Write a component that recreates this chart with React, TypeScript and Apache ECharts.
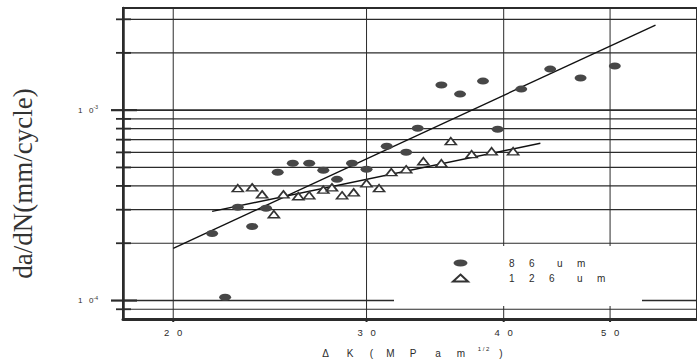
import React, { useEffect, useRef } from "react";
import * as echarts from "echarts";

const X_MIN = 18;
const X_MAX = 60;
const Y_MIN = 8e-5;
const Y_MAX = 3.44e-3;

const xTicks = [20, 30, 40, 50];
const xTickLabels = ["20", "30", "40", "50"];
const yGridValues = [9e-5, 1e-4, 2e-4, 3e-4, 4e-4, 5e-4, 6e-4, 7e-4, 8e-4, 9e-4, 1e-3, 2e-3, 3e-3];
const yMajorValues = [1e-4, 1e-3];
const yMajorExps = ["-4", "-3"];

const d86X = [22.3, 21.7, 22.9, 23.6, 24.3, 24.9, 25.7, 26.6, 27.4, 28.2, 29.1, 30.0, 31.3, 32.6, 33.4, 35.1, 36.5, 38.3, 39.5, 41.5, 44.1, 47.0, 50.5];
const d86Y = [1.04e-4, 2.25e-4, 3.09e-4, 2.45e-4, 3.05e-4, 4.72e-4, 5.26e-4, 5.26e-4, 4.83e-4, 4.33e-4, 5.26e-4, 4.89e-4, 6.46e-4, 6.01e-4, 8.04e-4, 1.354e-3, 1.214e-3, 1.421e-3, 7.94e-4, 1.29e-3, 1.643e-3, 1.474e-3, 1.704e-3];
const d126X = [22.9, 23.6, 24.1, 24.7, 25.2, 26.0, 26.6, 27.4, 27.9, 28.5, 29.2, 30.0, 30.8, 31.6, 32.6, 33.8, 35.1, 35.8, 37.4, 39.0, 40.8];
const d126Y = [3.89e-4, 3.93e-4, 3.61e-4, 2.84e-4, 3.61e-4, 3.53e-4, 3.57e-4, 3.82e-4, 3.93e-4, 3.57e-4, 3.70e-4, 4.13e-4, 3.89e-4, 4.72e-4, 4.89e-4, 5.39e-4, 5.26e-4, 6.87e-4, 5.87e-4, 6.08e-4, 6.08e-4];

const fit86X = [20, 55];
const fit86Y = [1.88e-4, 2.8e-3];
const fit126X = [21.7, 43.2];
const fit126Y = [2.94e-4, 6.7e-4];

const seriesNames = ["86 um", "126 um"];

const ELLIPSE = "path://M0,5A10,5,0,1,1,20,5A10,5,0,1,1,0,5Z";
const INK = "#2b2b2b";
const SANS = "Liberation Sans, Arial, sans-serif";

function spaced(s: string) {
  return s
    .split("")
    .map((ch) => (ch === " " ? `{g| }` : `{c|${ch}}`))
    .join("");
}

export default function App() {
  const ref = useRef<HTMLDivElement>(null);
  useEffect(() => {
    document.body.style.margin = "0";
    if (!ref.current) return;
    const chart = echarts.init(ref.current, null, { renderer: "svg" });

    const isMajor = (v: number) => yMajorValues.findIndex((m) => Math.abs(m - v) / m < 1e-6);

    const option: any = {
      animation: false,
      backgroundColor: "#fff",
      grid: {
        left: 123,
        right: -4,
        top: 8,
        bottom: 44,
        show: true,
        borderColor: INK,
        borderWidth: 2,
        z: 0,
      },
      xAxis: {
        type: "log",
        min: X_MIN,
        max: X_MAX,
        axisLine: { show: true, lineStyle: { color: INK, width: 3 } },
        axisTick: { show: false },
        axisLabel: { show: false },
        splitLine: { show: false },
        name: "{c1|Δ}{c2|K}{c3|(}{c4|M}{c5|P}{c6|a}{c7|m}{sup|1 / 2}{c9|)}",
        nameLocation: "middle",
        nameGap: 27,
        nameTextStyle: {
          color: INK,
          fontFamily: SANS,
          fontSize: 10,
          rich: {
            c1: { width: 21, fontSize: 10, fontFamily: SANS, color: INK },
            c2: { width: 28, fontSize: 10, fontFamily: SANS, color: INK },
            c3: { width: 15, fontSize: 10, fontFamily: SANS, color: INK },
            c4: { width: 23, fontSize: 10, fontFamily: SANS, color: INK },
            c5: { width: 22, fontSize: 10, fontFamily: SANS, color: INK },
            c6: { width: 28, fontSize: 10, fontFamily: SANS, color: INK },
            c7: { width: 18, fontSize: 10, fontFamily: SANS, color: INK },
            sup: { width: 27, fontSize: 6, fontFamily: SANS, color: INK, padding: [0, 0, 8, 0] },
            c9: { width: 8, fontSize: 10, fontFamily: SANS, color: INK },
          },
        },
      },
      yAxis: {
        type: "log",
        min: Y_MIN,
        max: Y_MAX,
        axisLine: { show: true, lineStyle: { color: INK, width: 2.5 } },
        axisTick: { show: false },
        axisLabel: { show: false },
        splitLine: { show: false },
        name: "da/dN(mm/cycle)",
        nameLocation: "middle",
        nameRotate: 90,
        nameGap: 87,
        nameTextStyle: {
          fontFamily: "Liberation Serif, Times New Roman, serif",
          fontSize: 27,
          color: "#333",
          padding: [0, 40, 0, 0],
        },
      },
      legend: {
        orient: "vertical",
        left: 447,
        top: 253,
        itemWidth: 15,
        itemHeight: 7,
        itemGap: 5,
        z: 10,
        data: [{ name: seriesNames[0], icon: ELLIPSE }, { name: seriesNames[1], icon: "triangle" }],
        formatter: (name: string) => "{sp| }" + spaced(name),
        textStyle: {
          color: INK,
          fontFamily: SANS,
          fontSize: 10,
          rich: {
            sp: { width: 36, fontSize: 10 },
            c: { width: 20, fontSize: 10, fontFamily: SANS, color: INK },
            g: { width: 8, fontSize: 10 },
          },
        },
      },
      graphic: [
        {
          type: "rect",
          z: 2,
          shape: { x: 394, y: 246, width: 248, height: 60 },
          style: { fill: "#fff" },
        },
      ],
      series: [
        {
          type: "custom",
          name: "hgrid",
          z: 1,
          clip: false,
          silent: true,
          data: yGridValues.map((v) => [X_MIN, v]),
          renderItem: (params: any, api: any) => {
            const v = api.value(1);
            const l = api.coord([X_MIN, v]);
            const r = api.coord([X_MAX, v]);
            const mi = isMajor(v);
            const children: any[] = [
              {
                type: "line",
                shape: { x1: l[0], y1: l[1], x2: r[0], y2: r[1] },
                style: { stroke: INK, lineWidth: mi >= 0 ? 1.6 : 1.2 },
              },
              {
                type: "line",
                shape: {
                  x1: l[0] - (mi >= 0 ? 12 : 7),
                  y1: l[1],
                  x2: l[0] + (mi >= 0 ? 14 : 8),
                  y2: l[1],
                },
                style: { stroke: INK, lineWidth: mi >= 0 ? 2.2 : 1.8 },
              },
            ];
            if (mi >= 0) {
              children.push({
                type: "text",
                x: l[0] - 25,
                y: l[1],
                style: {
                  text: "{d|1}{d|0}{s|" + yMajorExps[mi] + "}",
                  align: "right",
                  verticalAlign: "middle",
                  rich: {
                    d: { width: 11, fontSize: 8, fontFamily: SANS, fill: INK },
                    s: { fontSize: 5, fontFamily: SANS, fill: INK, padding: [0, 0, 6, 0] },
                  },
                },
              });
            }
            return { type: "group", children };
          },
        },
        {
          type: "custom",
          name: "vgrid",
          z: 1,
          clip: false,
          silent: true,
          data: xTicks.map((v) => [v, Y_MIN]),
          renderItem: (params: any, api: any) => {
            const v = api.value(0);
            const b = api.coord([v, Y_MIN]);
            const t = api.coord([v, Y_MAX]);
            const lbl = xTickLabels[params.dataIndex];
            return {
              type: "group",
              children: [
                {
                  type: "line",
                  shape: { x1: b[0], y1: b[1], x2: t[0], y2: t[1] },
                  style: { stroke: INK, lineWidth: 1 },
                },
                {
                  type: "line",
                  shape: { x1: b[0], y1: b[1], x2: b[0], y2: b[1] + 3 },
                  style: { stroke: INK, lineWidth: 2 },
                },
                {
                  type: "text",
                  x: b[0],
                  y: b[1] + 13,
                  style: {
                    text: lbl.split("").map((c) => "{d|" + c + "}").join(""),
                    align: "center",
                    verticalAlign: "middle",
                    rich: { d: { width: 13, align: "center", fontSize: 9.5, fontFamily: SANS, fill: INK } },
                  },
                },
              ],
            };
          },
        },
        {
          type: "line",
          name: "fit86",
          data: fit86X.map((x, i) => [x, fit86Y[i]]),
          symbol: "none",
          z: 3,
          silent: true,
          lineStyle: { color: "#111", width: 1.4 },
        },
        {
          type: "line",
          name: "fit126",
          data: fit126X.map((x, i) => [x, fit126Y[i]]),
          symbol: "none",
          z: 3,
          silent: true,
          lineStyle: { color: "#111", width: 1.4 },
        },
        {
          type: "scatter",
          name: seriesNames[0],
          data: d86X.map((x, i) => [x, d86Y[i]]),
          symbol: ELLIPSE,
          symbolSize: [12, 7],
          z: 4,
          itemStyle: { color: "#474747", opacity: 1 },
        },
        {
          type: "scatter",
          name: seriesNames[1],
          data: d126X.map((x, i) => [x, d126Y[i]]),
          symbol: "triangle",
          symbolSize: [11, 7],
          z: 4,
          itemStyle: { color: "#fff", borderColor: "#333", borderWidth: 1.6, opacity: 1 },
        },
      ],
    };

    chart.setOption(option);
    return () => chart.dispose();
  }, []);

  return <div ref={ref} style={{ width: 697, height: 363 }} />;
}
